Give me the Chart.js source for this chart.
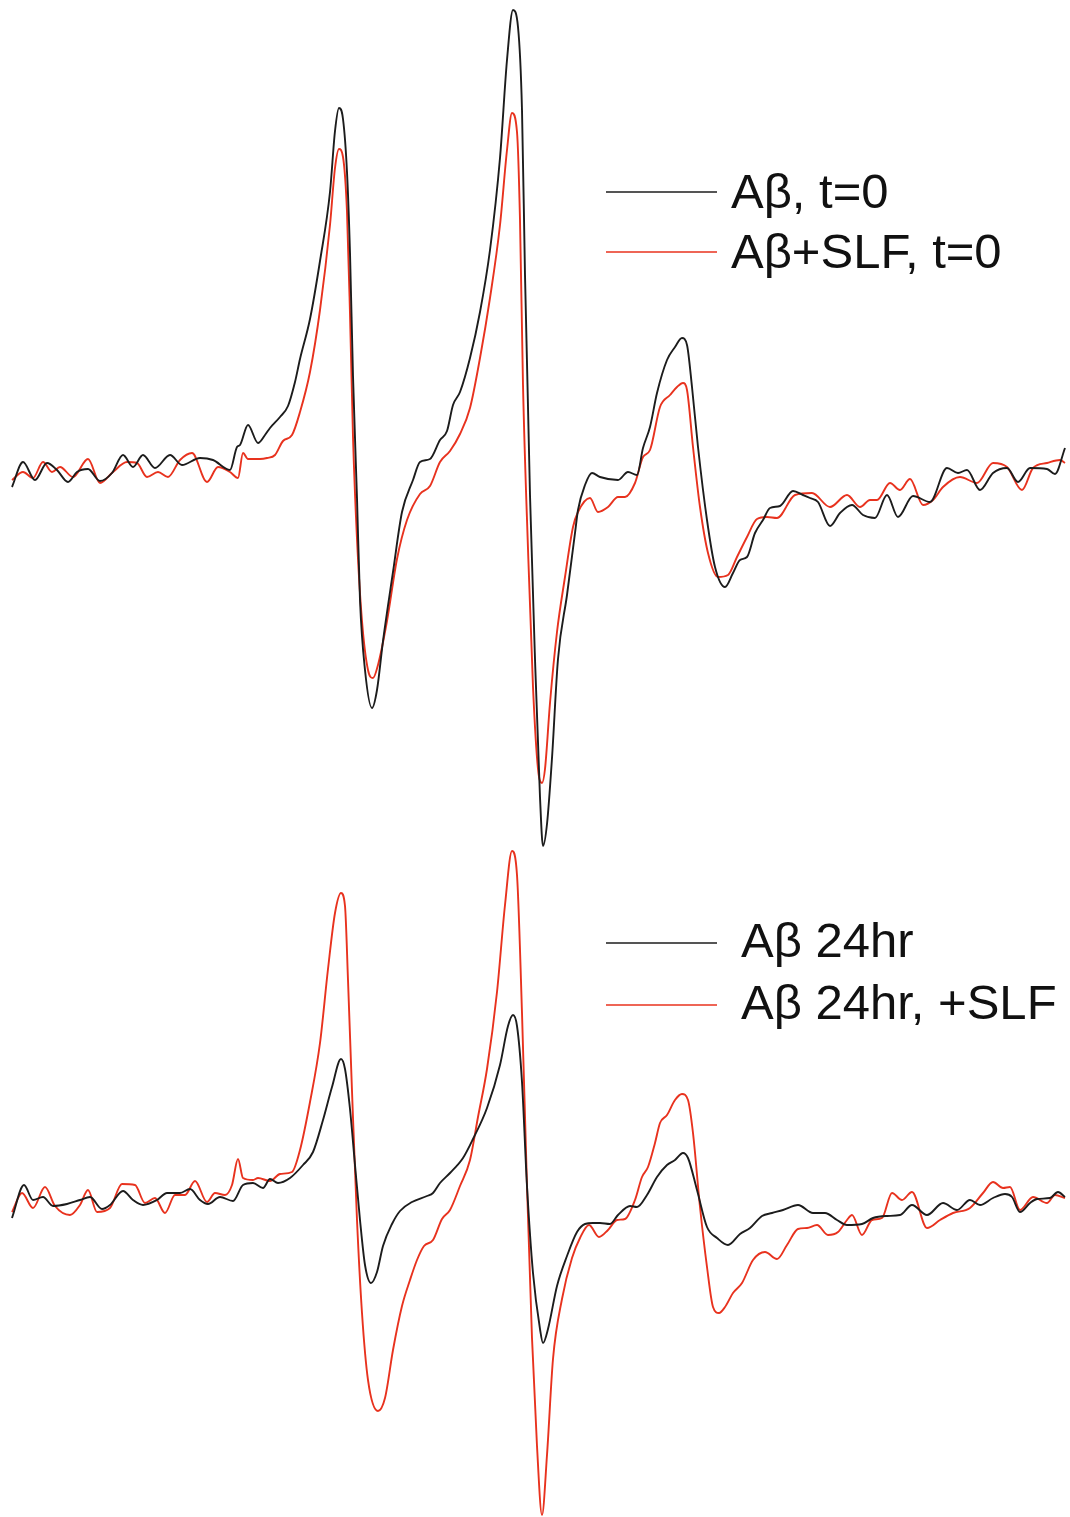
<!DOCTYPE html>
<html>
<head>
<meta charset="utf-8">
<script src="https://cdn.jsdelivr.net/npm/chart.js@4.4.0/dist/chart.umd.min.js"></script>
<style>
  body { margin: 0; background: #fff; }
  #wrap { position: relative; width: 1070px; height: 1517px; }
  canvas { position: absolute; left: 0; }
  #topChart { top: 0; }
  #bottomChart { top: 840px; }
</style>
</head>
<body>
<div id="wrap">
  <canvas id="topChart" width="1070" height="860"></canvas>
  <canvas id="bottomChart" width="1070" height="677"></canvas>
</div>
<script>
// EPR spectra, [field, signal] (arbitrary units)
const abT0 = [
  [12,-17],[23,8],[35,-10],[47,7],[57,0],[68,-12],[77,-2],[88,1],[100,-11],[112,-3],
  [123,15],[133,3],[143,15],[155,2],[170,15],[182,5],[200,12],[213,10],[230,0],[237,23],
  [240,25],[248,45],[258,27],[265,35],[270,42],[280,53],[288,64],[295,88],[300,111],[310,151],
  [320,209],[330,278],[335,339],[339,362],[343,351],[347,298],[350,217],[353,94],[357,-28],[360,-130],
  [365,-200],[372,-238],[377,-220],[383,-171],[393,-102],[402,-42],[413,-10],[420,8],[430,11],[440,30],
  [447,39],[453,65],[460,78],[470,112],[480,158],[490,220],[500,312],[507,410],[513,460],[518,443],
  [522,360],[525,195],[530,-25],[535,-189],[540,-327],[543,-376],[547,-354],[552,-288],[558,-189],[567,-125],
  [575,-63],[578,-40],[585,-15],[592,-3],[600,-7],[618,-10],[628,-2],[637,-5],[643,22],[650,43],
  [657,77],[667,110],[675,123],[682,132],[687,125],[692,83],[698,23],[707,-50],[715,-97],[725,-117],
  [733,-103],[740,-90],[747,-87],[755,-63],[763,-50],[770,-38],[780,-36],[793,-21],[803,-25],[810,-28],
  [818,-32],[830,-56],[840,-43],[852,-35],[863,-45],[875,-48],[887,-25],[898,-47],[913,-26],[930,-32],
  [947,2],[958,-3],[967,0],[980,-20],[993,-3],[1007,2],[1018,-12],[1030,2],[1047,1],[1055,-4],[1065,22]
];

const abSlfT0 = [
  [12,-10],[23,-2],[33,-8],[43,8],[52,-2],[60,3],[73,-7],[88,11],[100,-13],[113,-2],
  [127,8],[137,7],[147,-7],[158,-2],[168,-7],[180,10],[192,17],[207,-12],[218,3],[230,-2],
  [238,-8],[243,17],[248,11],[260,11],[267,12],[275,15],[283,29],[292,35],[300,58],[310,98],
  [320,160],[330,245],[335,302],[339,321],[343,313],[347,258],[350,156],[353,33],[357,-69],[362,-151],
  [368,-200],[373,-208],[378,-195],[387,-151],[397,-89],[407,-50],[420,-24],[430,-16],[440,8],[450,19],
  [460,36],[470,62],[480,112],[490,172],[500,245],[507,320],[512,357],[517,338],[520,250],[523,85],
  [528,-79],[533,-217],[538,-299],[542,-313],[545,-299],[550,-233],[557,-162],[565,-107],[573,-57],[578,-42],
  [590,-28],[598,-42],[608,-37],[618,-27],[625,-27],[635,-13],[643,13],[650,20],[660,63],[670,75],
  [677,83],[683,87],[687,80],[693,23],[700,-37],[708,-83],[718,-107],[728,-105],[737,-87],[747,-67],
  [757,-49],[767,-47],[777,-48],[795,-25],[812,-23],[830,-37],[847,-25],[860,-37],[870,-30],[877,-30],
  [890,-13],[900,-20],[910,-9],[923,-35],[933,-30],[943,-17],[960,-7],[977,-13],[993,7],[1007,3],
  [1022,-20],[1033,2],[1047,7],[1060,10],[1065,7]
];

const ab24 = [
  [12,-18],[24,15],[33,0],[43,3],[53,-6],[67,-4],[80,0],[90,3],[102,-9],[110,-5],
  [123,9],[133,0],[143,-5],[157,0],[167,7],[180,7],[190,11],[200,0],[208,-4],[220,3],
  [233,-1],[243,15],[253,17],[263,12],[270,21],[278,17],[290,22],[303,35],[313,48],[323,80],
  [332,113],[341,141],[345,131],[350,91],[355,35],[360,-20],[365,-65],[371,-83],[377,-72],[383,-46],
  [392,-24],[400,-11],[412,-2],[427,4],[433,7],[440,17],[450,27],[463,42],[473,61],[487,92],
  [500,135],[508,174],[513,185],[517,174],[522,118],[527,14],[533,-73],[540,-129],[543,-143],[548,-129],
  [557,-86],[567,-56],[577,-32],[585,-24],[593,-23],[600,-23],[610,-24],[618,-15],[630,-6],[637,-7],
  [647,5],[657,23],[667,35],[675,40],[683,47],[688,42],[697,10],[707,-27],[717,-38],[728,-45],
  [740,-34],[750,-28],[762,-16],[772,-13],[783,-10],[798,-5],[813,-13],[825,-13],[837,-20],[847,-25],
  [862,-24],[873,-18],[887,-16],[900,-15],[912,-5],[927,-15],[943,-3],[957,-10],[970,0],[980,-5],
  [993,2],[1005,6],[1012,3],[1020,-12],[1030,-3],[1037,1],[1050,2],[1058,8],[1065,3]
];

const ab24Slf = [
  [12,-12],[22,7],[33,-8],[45,13],[55,-6],[70,-15],[80,-5],[88,10],[97,-12],[110,-8],
  [122,16],[135,15],[145,-3],[155,2],[165,-13],[175,5],[185,5],[195,19],[207,-2],[215,7],
  [225,5],[232,15],[238,41],[243,22],[253,20],[258,22],[270,19],[280,26],[292,28],[300,50],
  [310,98],[320,157],[328,231],[335,287],[341,307],[345,294],[348,220],[352,109],[357,-20],[362,-113],
  [368,-180],[378,-211],[385,-198],[393,-150],[402,-106],[410,-80],[417,-60],[424,-46],[433,-40],[442,-19],
  [450,-10],[460,14],[470,40],[478,83],[487,131],[497,208],[505,295],[512,349],[517,325],[522,187],
  [527,14],[532,-138],[537,-246],[542,-315],[547,-255],[553,-159],[562,-99],[572,-58],[580,-38],[589,-25],
  [599,-37],[608,-30],[617,-20],[625,-19],[635,0],[642,23],[648,33],[655,57],[660,77],[667,85],
  [675,100],[682,106],[688,100],[693,67],[700,-7],[707,-67],[713,-107],[719,-113],[725,-107],[733,-93],
  [742,-83],[753,-60],[765,-52],[777,-59],[787,-45],[798,-29],[807,-28],[817,-25],[828,-35],[838,-32],
  [847,-20],[852,-15],[862,-35],[872,-20],[882,-18],[892,7],[902,0],[912,8],[927,-28],[940,-20],
  [953,-13],[970,-8],[983,7],[993,18],[1003,12],[1010,13],[1020,-10],[1033,3],[1047,-3],[1055,5],[1065,2]
];

const BLACK = '#1c1c1c';
const RED = '#e8321e';

const toPoints = arr => arr.map(([x, y]) => ({ x, y }));

// legend drawn at the right, one row per dataset
const sideLegend = {
  id: 'sideLegend',
  afterDraw(chart, args, opts) {
    const ctx = chart.ctx;
    ctx.save();
    ctx.font = opts.font;
    ctx.textBaseline = 'alphabetic';
    chart.data.datasets.forEach((ds, i) => {
      const y = opts.top + i * opts.rowGap;
      ctx.strokeStyle = ds.borderColor;
      ctx.lineWidth = 1.6;
      ctx.beginPath();
      ctx.moveTo(opts.lineX, y);
      ctx.lineTo(opts.lineX + opts.lineLen, y);
      ctx.stroke();
      ctx.fillStyle = '#111';
      ctx.fillText(ds.label, opts.textX, y + opts.textDy);
    });
    ctx.restore();
  }
};

function makeChart(id, sets, yMin, yMax, legend) {
  return new Chart(document.getElementById(id), {
    type: 'line',
    data: {
      datasets: sets.map(s => ({
        label: s.label,
        data: toPoints(s.data),
        borderColor: s.color,
        borderWidth: 1.9,
        pointRadius: 0,
        fill: false,
        cubicInterpolationMode: 'monotone'
      }))
    },
    options: {
      responsive: false,
      animation: false,
      devicePixelRatio: 1,
      layout: { padding: 0 },
      scales: {
        x: { type: 'linear', min: 0, max: 1070, display: false },
        y: { min: yMin, max: yMax, display: false }
      },
      plugins: {
        legend: { display: false },
        tooltip: { enabled: false },
        sideLegend: legend
      }
    },
    plugins: [sideLegend]
  });
}

makeChart('topChart', [
  { label: 'Aβ, t=0', data: abT0, color: BLACK },
  { label: 'Aβ+SLF, t=0', data: abSlfT0, color: RED }
], -390, 470, {
  font: '49px "Liberation Sans", Arial, sans-serif',
  top: 192, rowGap: 60, lineX: 606, lineLen: 111, textX: 731, textDy: 16
});

makeChart('bottomChart', [
  { label: 'Aβ 24hr', data: ab24, color: BLACK },
  { label: 'Aβ 24hr, +SLF', data: ab24Slf, color: RED }
], -317, 360, {
  font: '49px "Liberation Sans", Arial, sans-serif',
  top: 103, rowGap: 62, lineX: 606, lineLen: 111, textX: 741, textDy: 14
});
</script>
</body>
</html>
